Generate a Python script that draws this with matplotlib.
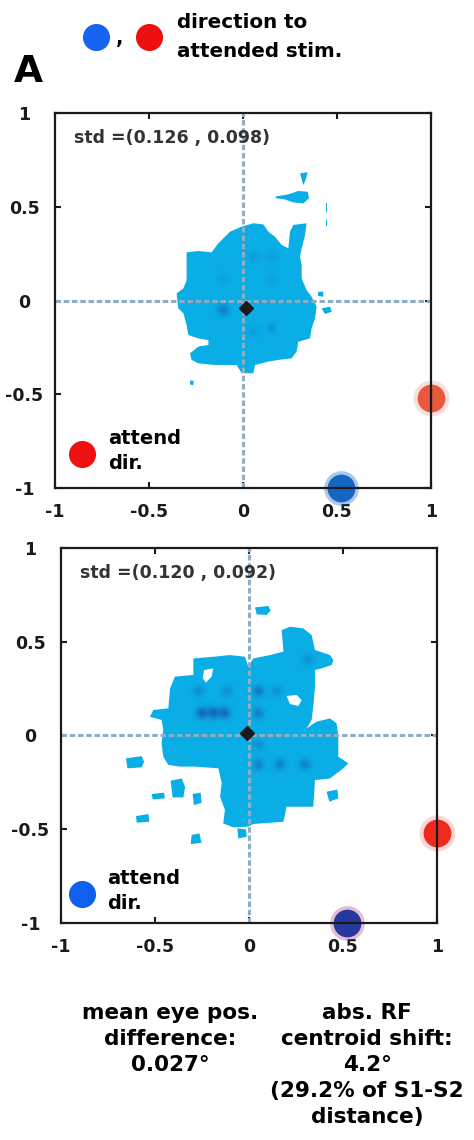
import numpy as np
import matplotlib.pyplot as plt
from matplotlib.lines import Line2D
from matplotlib.colors import to_rgb

plt.rcParams['font.family'] = ['DejaVu Sans']

BLOB = '#0aaee6'
SPOT = '#1a3aa6'
CROSS = '#8fadc4'

ticks = [-1, -0.5, 0, 0.5, 1]
tick_labels = ['-1', '-0.5', '0', '0.5', '1']

# ---- attend S1 (red) : eye position density, outline + islands (deg)
top_main_x = [-0.300, -0.238, -0.167, -0.131, -0.069, -0.007, 0.055, 0.108, 0.135, 0.170,
              0.206, 0.241, 0.250, 0.268, 0.338, 0.330, 0.312, 0.303, 0.312, 0.312,
              0.338, 0.365, 0.392, 0.383, 0.365, 0.356, 0.294, 0.285, 0.259, 0.188,
              0.135, 0.064, 0.055, -0.007, -0.034, -0.149, -0.238, -0.273, -0.282, -0.238,
              -0.184, -0.184, -0.238, -0.291, -0.300, -0.317, -0.344, -0.353, -0.317, -0.300]
top_main_y = [0.257, 0.264, 0.257, 0.305, 0.367, 0.394, 0.412, 0.406, 0.367, 0.340,
              0.296, 0.278, 0.367, 0.403, 0.412, 0.349, 0.278, 0.234, 0.189, 0.118,
              0.056, 0.020, -0.033, -0.095, -0.148, -0.202, -0.220, -0.273, -0.308, -0.317,
              -0.326, -0.344, -0.388, -0.388, -0.344, -0.344, -0.335, -0.317, -0.282, -0.246,
              -0.237, -0.211, -0.202, -0.184, -0.131, -0.068, -0.042, 0.038, 0.065, 0.109]
top_isl1_x = [0.170, 0.241, 0.294, 0.344, 0.351, 0.321, 0.268, 0.223, 0.179]
top_isl1_y = [0.554, 0.566, 0.584, 0.580, 0.545, 0.518, 0.523, 0.539, 0.545]
top_isl2_x = [0.303, 0.344, 0.333, 0.321]
top_isl2_y = [0.678, 0.684, 0.643, 0.616]
top_isl3_x = [0.401, 0.427, 0.427, 0.398]
top_isl3_y = [0.047, 0.047, 0.020, 0.025]
top_isl4_x = [0.418, 0.463, 0.472, 0.436]
top_isl4_y = [-0.042, -0.033, -0.060, -0.072]
top_isl5_x = [-0.280, -0.262, -0.265, -0.282]
top_isl5_y = [-0.425, -0.430, -0.452, -0.448]
top_isl6_x = [0.441, 0.449, 0.449, 0.441]
top_isl6_y = [0.520, 0.520, 0.470, 0.470]
top_isl7_x = [0.441, 0.449, 0.449, 0.441]
top_isl7_y = [0.428, 0.428, 0.398, 0.398]
top_spot_x = [-0.105, 0.055, 0.153, -0.105, 0.153, 0.055, 0.153]
top_spot_y = [-0.051, 0.234, 0.234, 0.118, 0.109, -0.166, -0.148]
top_spot_a = [0.55, 0.2, 0.2, 0.15, 0.15, 0.2, 0.25]
top_mean = (0.016, -0.038)
top_std = 'std =(0.126 , 0.098)'

# ---- attend S2 (blue)
bot_main_x = [-0.296, -0.190, -0.101, -0.021, -0.004, 0.023, 0.112, 0.183, 0.174, 0.218,
              0.289, 0.333, 0.351, 0.431, 0.449, 0.440, 0.386, 0.351, 0.351, 0.342,
              0.333, 0.307, 0.360, 0.431, 0.466, 0.475, 0.475, 0.528, 0.502, 0.466,
              0.431, 0.351, 0.342, 0.200, 0.183, 0.023, -0.004, -0.083, -0.137, -0.128,
              -0.154, -0.145, -0.163, -0.287, -0.367, -0.429, -0.456, -0.465, -0.456, -0.465,
              -0.527, -0.509, -0.429, -0.420, -0.394, -0.296]
bot_main_y = [0.411, 0.420, 0.429, 0.420, 0.367, 0.411, 0.429, 0.447, 0.562, 0.580,
              0.571, 0.536, 0.456, 0.429, 0.402, 0.376, 0.358, 0.349, 0.260, 0.154,
              0.083, 0.038, 0.074, 0.091, 0.065, -0.006, -0.113, -0.148, -0.175, -0.202,
              -0.229, -0.238, -0.380, -0.380, -0.460, -0.472, -0.486, -0.490, -0.469, -0.397,
              -0.326, -0.255, -0.175, -0.166, -0.166, -0.157, -0.113, -0.042, 0.029, 0.083,
              0.100, 0.136, 0.145, 0.251, 0.314, 0.323]
bot_isl1_x = [0.032, 0.103, 0.115, 0.094, 0.041]
bot_isl1_y = [0.683, 0.691, 0.666, 0.643, 0.646]
bot_isl2_x = [-0.654, -0.571, -0.558, -0.571, -0.647]
bot_isl2_y = [-0.122, -0.110, -0.140, -0.170, -0.175]
bot_isl3_x = [-0.518, -0.452, -0.447, -0.512]
bot_isl3_y = [-0.312, -0.305, -0.335, -0.341]
bot_isl4_x = [-0.601, -0.535, -0.530, -0.597]
bot_isl4_y = [-0.430, -0.419, -0.460, -0.465]
bot_isl5_x = [-0.417, -0.358, -0.340, -0.349, -0.406]
bot_isl5_y = [-0.241, -0.229, -0.273, -0.330, -0.330]
bot_isl6_x = [-0.300, -0.257, -0.252, -0.293]
bot_isl6_y = [-0.312, -0.305, -0.359, -0.371]
bot_isl7_x = [-0.305, -0.264, -0.252, -0.310]
bot_isl7_y = [-0.531, -0.522, -0.572, -0.579]
bot_isl8_x = [-0.062, -0.016, -0.012, -0.057]
bot_isl8_y = [-0.495, -0.501, -0.540, -0.549]
bot_isl9_x = [0.413, 0.470, 0.475, 0.427]
bot_isl9_y = [-0.300, -0.288, -0.335, -0.353]
bot_hole1_x = [-0.239, -0.190, -0.199, -0.229, -0.246]
bot_hole1_y = [0.349, 0.358, 0.314, 0.282, 0.305]
bot_hole2_x = [0.200, 0.253, 0.280, 0.262, 0.218]
bot_hole2_y = [0.211, 0.216, 0.189, 0.157, 0.168]
bot_spot_x = [-0.269, -0.119, -0.25, -0.19, -0.13, 0.050, 0.147, 0.050, 0.050, 0.050, 0.165, 0.298, 0.316]
bot_spot_y = [0.234, 0.234, 0.118, 0.118, 0.118, 0.234, 0.234, 0.118, -0.051, -0.157, -0.157, -0.157, 0.403]
bot_spot_a = [0.35, 0.35, 0.8, 0.8, 0.8, 0.6, 0.3, 0.5, 0.35, 0.5, 0.5, 0.5, 0.3]
bot_mean = (-0.012, 0.011)
bot_std = 'std =(0.120 , 0.092)'

# stimulus positions (S1 red, S2 blue)
s1_pos = (1.0, -0.52)
s2_pos = (0.52, -1.0)


def spot_layer(ax, spots, clip):
    # soft darker patches where the eye dwelt longest
    sx, sy, sa = spots
    g = np.linspace(-1, 1, 400)
    gx, gy = np.meshgrid(g, g)
    dens = np.zeros_like(gx)
    for x, y, a in zip(sx, sy, sa):
        dens += a * np.exp(-((gx - x) ** 2 + (gy - y) ** 2) / (2 * 0.022 ** 2))
    dens = np.clip(dens, 0, 1)
    rgba = np.zeros(gx.shape + (4,))
    rgba[..., :3] = to_rgb(SPOT)
    rgba[..., 3] = dens * 0.75
    im = ax.imshow(rgba, extent=(-1, 1, -1, 1), origin='lower', zorder=2,
                   interpolation='bilinear')
    im.set_clip_path(clip)


def draw_panel(ax, islands, holes, spots, mean, std, s1_col, s2_col, s2_halo,
               leg_col, leg_pos, leg_text_x):
    main = None
    for xs, ys in islands:
        p = ax.fill(xs, ys, color=BLOB, lw=0, zorder=1)[0]
        if main is None:
            main = p
    for xs, ys in holes:
        ax.fill(xs, ys, color='white', lw=0, zorder=2.5)
    spot_layer(ax, spots, main)

    ax.axhline(0, color=CROSS, lw=2.2, ls=(0, (1.8, 0.9)), zorder=3)
    ax.axvline(0, color=CROSS, lw=2.2, ls=(0, (1.8, 0.9)), zorder=3)
    ax.plot(*mean, marker='D', ms=7.5, color='#1a1a1a', zorder=4)

    ax.text(-0.9, 0.865, std, fontsize=12.5, fontweight='bold', color='#333333',
            va='center', ha='left')

    # stimulus locations, slightly soft
    ax.plot(*s1_pos, marker='o', ms=26, color=s1_col, alpha=0.18, mew=0, clip_on=False, zorder=5)
    ax.plot(*s1_pos, marker='o', ms=20, color=s1_col, mew=0, clip_on=False, zorder=5)
    ax.plot(*s2_pos, marker='o', ms=25, color=s2_halo, alpha=0.35, mew=0, clip_on=False, zorder=5)
    ax.plot(*s2_pos, marker='o', ms=20, color=s2_col, mew=0, clip_on=False, zorder=5)

    # which stimulus was attended
    ax.plot(*leg_pos, marker='o', ms=19.5, color=leg_col, mew=0, zorder=5)
    ax.text(leg_text_x, leg_pos[1] + 0.015, 'attend\ndir.', fontsize=14, fontweight='bold',
            va='center', ha='left', linespacing=1.42, color='black')

    ax.set_xlim(-1, 1)
    ax.set_ylim(-1, 1)
    ax.set_aspect('auto')
    ax.set_xticks(ticks)
    ax.set_xticklabels(tick_labels)
    ax.set_yticks(ticks)
    ax.set_yticklabels(tick_labels)
    ax.tick_params(direction='in', length=4, width=1.5, top=True, right=True,
                   labelsize=12.5, colors='#1a1a1a')
    ax.tick_params(axis='x', pad=11)
    ax.tick_params(axis='y', pad=22)
    for lab in ax.get_xticklabels() + ax.get_yticklabels():
        lab.set_fontweight('bold')
    for lab in ax.get_yticklabels():
        lab.set_ha('center')
    for sp in ax.spines.values():
        sp.set_linewidth(1.6)
        sp.set_color('#1a1a1a')
        sp.set_zorder(6)


fig = plt.figure(figsize=(4.74, 11.40), dpi=100)

ax1 = fig.add_axes([55 / 474, 1 - 488 / 1140, 376 / 474, 375 / 1140])
draw_panel(ax1,
           [(top_main_x, top_main_y), (top_isl1_x, top_isl1_y), (top_isl2_x, top_isl2_y),
            (top_isl3_x, top_isl3_y), (top_isl4_x, top_isl4_y), (top_isl5_x, top_isl5_y),
            (top_isl6_x, top_isl6_y), (top_isl7_x, top_isl7_y)],
           [],
           (top_spot_x, top_spot_y, top_spot_a),
           top_mean, top_std,
           '#e8583c', '#1466c2', '#1466c2', '#ee1111', (-0.856, -0.819), -0.72)

ax2 = fig.add_axes([61 / 474, 1 - 923 / 1140, 376 / 474, 375 / 1140])
draw_panel(ax2,
           [(bot_main_x, bot_main_y), (bot_isl1_x, bot_isl1_y), (bot_isl2_x, bot_isl2_y),
            (bot_isl3_x, bot_isl3_y), (bot_isl4_x, bot_isl4_y), (bot_isl5_x, bot_isl5_y),
            (bot_isl6_x, bot_isl6_y), (bot_isl7_x, bot_isl7_y), (bot_isl8_x, bot_isl8_y),
            (bot_isl9_x, bot_isl9_y)],
           [(bot_hole1_x, bot_hole1_y), (bot_hole2_x, bot_hole2_y)],
           (bot_spot_x, bot_spot_y, bot_spot_a),
           bot_mean, bot_std,
           '#ee2a1e', '#263a9e', '#b04a8a', '#1060f0', (-0.888, -0.845), -0.755)

# colour key at the top
fig.add_artist(Line2D([96 / 474], [1 - 37 / 1140], marker='o', ms=19.5, color='#1565f2',
                      mew=0, transform=fig.transFigure))
fig.add_artist(Line2D([149 / 474], [1 - 37 / 1140], marker='o', ms=19.5, color='#ee1010',
                      mew=0, transform=fig.transFigure))
fig.text(120 / 474, 1 - 44 / 1140, ',', fontsize=14, fontweight='bold', ha='center', va='baseline')
fig.text(177 / 474, 1 - 28 / 1140, 'direction to', fontsize=14.3,
         fontweight='bold', ha='left', va='baseline')
fig.text(177 / 474, 1 - 57 / 1140, 'attended stim.', fontsize=14.3,
         fontweight='bold', ha='left', va='baseline')
fig.text(14 / 474, 1 - 82 / 1140, 'A', fontsize=27, fontweight='bold', ha='left', va='baseline')

fig.text(170 / 474, 1 - 1003 / 1140, 'mean eye pos.\ndifference:\n0.027°', fontsize=15.5,
         fontweight='bold', ha='center', va='top', linespacing=1.38)
fig.text(367 / 474, 1 - 1003 / 1140, 'abs. RF\ncentroid shift:\n4.2°\n(29.2% of S1-S2\ndistance)',
         fontsize=15.5, fontweight='bold', ha='center', va='top', linespacing=1.38)

fig.savefig('out.png', dpi=100, facecolor='white')
